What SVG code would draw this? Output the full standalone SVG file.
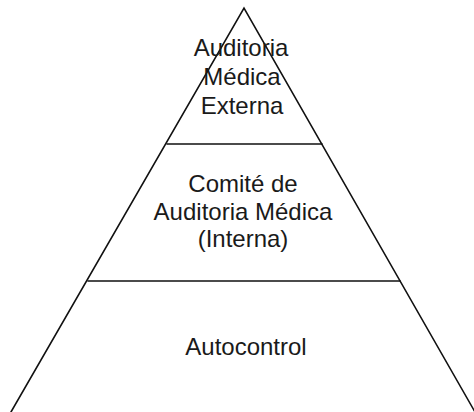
<svg xmlns="http://www.w3.org/2000/svg" width="474" height="412" viewBox="0 0 474 412">
<style>
.ln{stroke:#111;stroke-width:1.6;fill:none;stroke-linecap:round}
.t{font-family:"Liberation Sans",Arial,sans-serif;font-size:24px;fill:#1a1a1a;text-anchor:middle}
</style>
<rect width="474" height="412" fill="#fff"/>
<g id="pyramid">
<polyline class="ln" points="11,412 244,8 475,412"/>
</g>
<g id="connectors">
<line class="ln" x1="167" y1="144" x2="322" y2="144"/>
<line class="ln" x1="88" y1="281" x2="400" y2="281"/>
</g>
<g id="tier-top">
<text class="t" x="241" y="56">Auditoria</text>
<text class="t" x="242" y="85">Médica</text>
<text class="t" x="242" y="114">Externa</text>
</g>
<g id="tier-middle">
<text class="t" x="243" y="192">Comité de</text>
<text class="t" x="243" y="220">Auditoria Médica</text>
<text class="t" x="243" y="247">(Interna)</text>
</g>
<g id="tier-bottom">
<text class="t" x="246" y="355">Autocontrol</text>
</g>
</svg>
